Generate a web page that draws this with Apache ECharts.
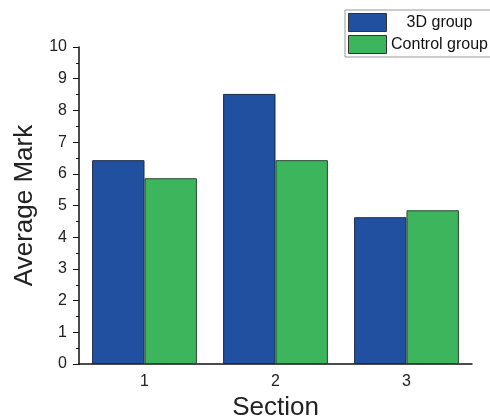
<!DOCTYPE html>
<html>
<head>
<meta charset="utf-8">
<script src="https://cdn.jsdelivr.net/npm/echarts@6/dist/echarts.min.js"></script>
<style>
  html, body { margin: 0; padding: 0; background: #fff; }
  #chart { width: 490px; height: 420px; }
</style>
</head>
<body>
<div id="chart"></div>
<script>
// data
var sections = ["1", "2", "3"];
var group3D = [6.43, 8.52, 4.63];
var controlGroup = [5.86, 6.43, 4.85];

var myChart = echarts.init(document.getElementById("chart"));

var labelFont = "Liberation Sans, Arial, sans-serif";

var option = {
  backgroundColor: "#fff",
  textStyle: { fontFamily: labelFont },
  grid: { left: 79, right: 18, top: 47, bottom: 56, outerBoundsMode: "none" },
  legend: {
    orient: "vertical",
    left: 345,
    top: 10,
    padding: [3, 3, 3, 3],
    icon: "rect",
    itemWidth: 38,
    itemHeight: 18,
    itemGap: 3,
    borderColor: "#999",
    borderWidth: 1,
    itemStyle: { borderColor: "#333", borderWidth: 1 },
    formatter: function (name) { return "{t|" + name + "}"; },
    textStyle: {
      padding: [0, 0, 0, -4],
      rich: {
        t: { width: 104, align: "center", fontSize: 16, color: "#111", fontFamily: labelFont }
      }
    },
    data: ["3D group", "Control group"]
  },
  xAxis: {
    type: "category",
    data: sections,
    name: "Section",
    nameLocation: "middle",
    nameGap: 30,
    nameTextStyle: { fontSize: 26, color: "#222" },
    axisLine: { lineStyle: { color: "#111", width: 1.5 } },
    axisTick: { alignWithLabel: true, length: 4, lineStyle: { color: "#111" } },
    axisLabel: { fontSize: 16, color: "#222", margin: 10 }
  },
  yAxis: {
    type: "value",
    min: 0,
    max: 10,
    interval: 1,
    name: "Average Mark",
    nameLocation: "middle",
    nameGap: 41,
    nameTextStyle: { fontSize: 26, color: "#222" },
    axisLine: { show: true, lineStyle: { color: "#111", width: 1.5 } },
    axisTick: { show: true, length: 6, lineStyle: { color: "#111" } },
    minorTick: { show: true, splitNumber: 2, length: 3, lineStyle: { color: "#111" } },
    splitLine: { show: false },
    axisLabel: { fontSize: 16, color: "#222", margin: 12 }
  },
  series: [
    {
      name: "3D group",
      type: "bar",
      data: group3D,
      barGap: "0%",
      barCategoryGap: "20%",
      itemStyle: { color: "#2150a0", borderColor: "#1a2a4a", borderWidth: 1 }
    },
    {
      name: "Control group",
      type: "bar",
      data: controlGroup,
      itemStyle: { color: "#3cb55c", borderColor: "#254a30", borderWidth: 1 }
    }
  ]
};

myChart.setOption(option);
</script>
</body>
</html>
